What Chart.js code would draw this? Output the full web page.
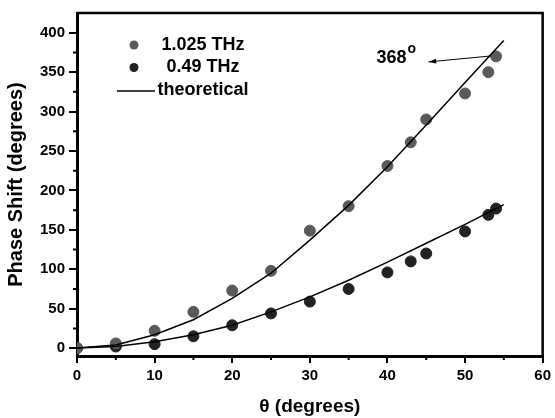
<!DOCTYPE html>
<html>
<head>
<meta charset="utf-8">
<script src="https://cdn.jsdelivr.net/npm/chart.js@4"></script>
<style>
  body { margin: 0; background: #fff; }
</style>
</head>
<body>
<canvas id="phase" width="555" height="418"></canvas>
<script>
// measured points (theta in degrees)
const thetas = [0, 5, 10, 15, 20, 25, 30, 35, 40, 43, 45, 50, 53, 54];
const phase1025 = [0, 6, 22, 46, 73, 98, 149, 180, 231, 261, 290, 323, 350, 370];
const phase049 = [0, 2, 5, 15, 29, 44, 59, 75, 96, 110, 120, 148, 169, 177];

// theoretical curves
const thetaTheory = [0, 5, 10, 15, 20, 25, 30, 35, 40, 45, 50, 55];
const theory1025 = [0, 4, 17, 36, 63, 95, 137, 181, 230, 283, 337, 390];
const theory049 = [0, 2, 8, 17, 29, 46, 65, 86, 109, 133, 157, 182];

const xTicks = [0, 10, 20, 30, 40, 50, 60];
const xMinor = [5, 15, 25, 35, 45, 55];
const yTicks = [0, 50, 100, 150, 200, 250, 300, 350, 400];
const yMinor = [25, 75, 125, 175, 225, 275, 325, 375];

// "368°" callout, in data coordinates
const calloutText = '368';
const calloutAt = [38.6, 362];
const arrowFrom = [53.3, 370.5];
const arrowTo = [45.3, 363];

const toXY = (xs, ys) => xs.map((x, i) => ({x: x, y: ys[i]}));

Chart.defaults.font.family = 'Arial, "Liberation Sans", sans-serif';
Chart.defaults.font.weight = 'bold';
Chart.defaults.color = '#000';

const frameAndMinor = {
  id: 'frameAndMinor',
  afterDraw(chart) {
    const {ctx, chartArea: a, scales: {x, y}} = chart;
    ctx.save();
    ctx.strokeStyle = '#000';
    // top and right border
    ctx.lineWidth = 2.5;
    ctx.beginPath();
    ctx.moveTo(a.left, a.top);
    ctx.lineTo(a.right, a.top);
    ctx.lineTo(a.right, a.bottom);
    ctx.stroke();
    // minor ticks
    ctx.lineWidth = 2;
    ctx.beginPath();
    xMinor.forEach(v => {
      const px = x.getPixelForValue(v);
      ctx.moveTo(px, a.bottom);
      ctx.lineTo(px, a.bottom + 4);
    });
    yMinor.forEach(v => {
      const py = y.getPixelForValue(v);
      ctx.moveTo(a.left, py);
      ctx.lineTo(a.left - 4, py);
    });
    ctx.stroke();
    ctx.restore();
  }
};

const legendBox = {
  id: 'legendBox',
  afterDraw(chart) {
    const {ctx, chartArea: a} = chart;
    const items = chart.data.datasets.filter(d => !d.noLegend);
    ctx.save();
    ctx.font = 'bold 18px Arial, "Liberation Sans", sans-serif';
    ctx.textAlign = 'center';
    ctx.textBaseline = 'middle';
    items.forEach((d, i) => {
      const cy = a.top + 32 + i * 22.5;
      if (d.showLine) {
        ctx.strokeStyle = d.borderColor;
        ctx.lineWidth = 1.5;
        ctx.beginPath();
        ctx.moveTo(a.left + 40, cy + 1);
        ctx.lineTo(a.left + 78, cy + 1);
        ctx.stroke();
      } else {
        ctx.fillStyle = d.backgroundColor;
        ctx.beginPath();
        ctx.arc(a.left + 57, cy, 4.5, 0, Math.PI * 2);
        ctx.fill();
      }
      ctx.fillStyle = '#000';
      ctx.fillText(d.label, a.left + 126, cy);
    });
    ctx.restore();
  }
};

const callout = {
  id: 'callout',
  afterDraw(chart) {
    const {ctx, scales: {x, y}} = chart;
    const x0 = x.getPixelForValue(arrowFrom[0]), y0 = y.getPixelForValue(arrowFrom[1]);
    const x1 = x.getPixelForValue(arrowTo[0]), y1 = y.getPixelForValue(arrowTo[1]);
    ctx.save();
    ctx.strokeStyle = '#000';
    ctx.fillStyle = '#000';
    ctx.lineWidth = 1;
    ctx.beginPath();
    ctx.moveTo(x0, y0);
    ctx.lineTo(x1, y1);
    ctx.stroke();
    const ang = Math.atan2(y1 - y0, x1 - x0);
    ctx.beginPath();
    ctx.moveTo(x1, y1);
    ctx.lineTo(x1 - 8 * Math.cos(ang - 0.3), y1 - 8 * Math.sin(ang - 0.3));
    ctx.lineTo(x1 - 8 * Math.cos(ang + 0.3), y1 - 8 * Math.sin(ang + 0.3));
    ctx.closePath();
    ctx.fill();
    const tx = x.getPixelForValue(calloutAt[0]), ty = y.getPixelForValue(calloutAt[1]);
    ctx.font = 'bold 18px Arial, "Liberation Sans", sans-serif';
    ctx.textAlign = 'left';
    ctx.textBaseline = 'alphabetic';
    ctx.fillText(calloutText, tx, ty);
    const w = ctx.measureText(calloutText).width;
    ctx.font = 'bold 14px Arial, "Liberation Sans", sans-serif';
    ctx.fillText('o', tx + w + 1, ty - 10);
    ctx.restore();
  }
};

new Chart(document.getElementById('phase'), {
  type: 'scatter',
  data: {
    datasets: [
      {
        label: '1.025 THz',
        data: toXY(thetas, phase1025),
        backgroundColor: '#5a5a5a',
        borderColor: '#5a5a5a',
        pointRadius: 5.5,
        order: 2
      },
      {
        label: '0.49 THz',
        data: toXY(thetas, phase049),
        backgroundColor: '#222',
        borderColor: '#222',
        pointRadius: 5.5,
        order: 2
      },
      {
        label: 'theoretical',
        data: toXY(thetaTheory, theory1025),
        showLine: true,
        borderColor: '#000',
        backgroundColor: '#000',
        borderWidth: 1.5,
        pointRadius: 0,
        order: 1
      },
      {
        label: 'theoretical',
        noLegend: true,
        data: toXY(thetaTheory, theory049),
        showLine: true,
        borderColor: '#000',
        backgroundColor: '#000',
        borderWidth: 1.5,
        pointRadius: 0,
        order: 1
      }
    ]
  },
  options: {
    responsive: false,
    animation: false,
    layout: { padding: { top: 11, right: 10, left: 0, bottom: 0 } },
    plugins: {
      legend: { display: false },
      tooltip: { enabled: false }
    },
    scales: {
      x: {
        type: 'linear',
        min: 0,
        max: 60,
        afterBuildTicks: s => { s.ticks = xTicks.map(v => ({value: v})); },
        afterFit: s => { s.height = 62; },
        border: { color: '#000', width: 3 },
        grid: { drawOnChartArea: false, tickLength: 7, tickColor: '#000', lineWidth: 2 },
        ticks: { font: { size: 15, weight: 'bold' }, padding: 4, maxRotation: 0 },
        title: { display: true, text: 'θ (degrees)', font: { size: 19, weight: 'bold' }, padding: 0 }
      },
      y: {
        type: 'linear',
        min: -10,
        max: 425,
        afterBuildTicks: s => { s.ticks = yTicks.map(v => ({value: v})); },
        afterFit: s => { s.width = 77; },
        border: { color: '#000', width: 3 },
        grid: { drawOnChartArea: false, tickLength: 8, tickColor: '#000', lineWidth: 2 },
        ticks: { font: { size: 15, weight: 'bold' }, padding: 4 },
        title: { display: true, text: 'Phase Shift (degrees)', font: { size: 20, weight: 'bold' }, padding: { top: 4 } }
      }
    }
  },
  plugins: [frameAndMinor, legendBox, callout]
});
</script>
</body>
</html>
